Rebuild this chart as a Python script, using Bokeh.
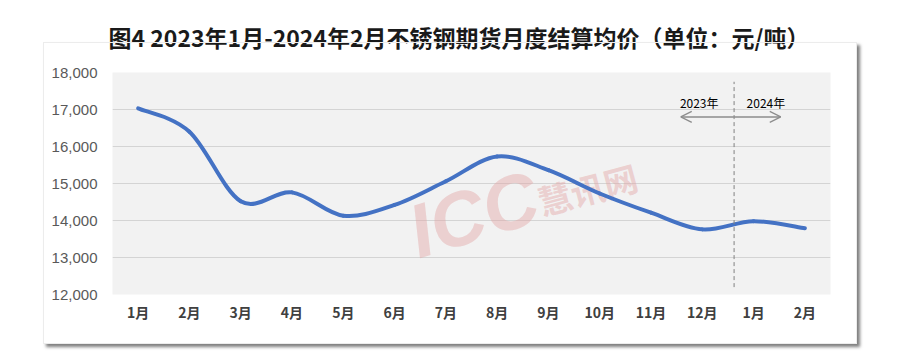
from bokeh.plotting import figure
from bokeh.models import (FixedTicker, NumeralTickFormatter, Range1d, Title, Label,
                          Arrow, OpenHead, ColumnDataSource, InlineStyleSheet)
from bokeh.core.properties import value
from bokeh.embed import file_html
from bokeh.resources import INLINE

months = ["1月", "2月", "3月", "4月", "5月", "6月", "7月", "8月", "9月", "10月", "11月", "12月", "1月", "2月"]
prices = [17030, 16400, 14520, 14760, 14130, 14420, 15060, 15730, 15360, 14730, 14210, 13760, 13980, 13790]
y_ticks = [12000, 13000, 14000, 15000, 16000, 17000, 18000]
year_labels = ["2023年", "2024年"]

W, H = 884, 347
p = figure(width=W, height=H, output_backend="svg", toolbar_location=None,
           x_range=Range1d(-0.5, len(months) - 0.5), y_range=Range1d(12000, 18000),
           min_border_left=112, min_border_right=54, min_border_top=71, min_border_bottom=53)
p.background_fill_color = "#f2f2f2"
p.border_fill_color = "white"
p.outline_line_color = None

# chart box with shadow (CSS overlay, transparent inside)
p.stylesheets = [InlineStyleSheet(css="""
:host { position: relative; }
:host::after {
  content: ''; position: absolute; left: 43px; top: 42px; width: 814px; height: 302px;
  border: 1px solid #ececec; box-shadow: 3px 3px 3px rgba(0,0,0,0.5);
  pointer-events: none; box-sizing: border-box;
}
""")]

# title
t = Title(text="图4 2023年1月-2024年2月不锈钢期货月度结算均价（单位：元/吨）",
          text_font="Noto Sans CJK SC", text_font_size="23px", text_font_style="bold",
          text_color="#1a1a1a", align="left", vertical_align="middle", standoff=36, offset=-4)
p.add_layout(t, "above")

# axes
p.xaxis.ticker = FixedTicker(ticks=list(range(len(months))))
p.xaxis.major_label_overrides = {i: m for i, m in enumerate(months)}
p.xaxis.major_label_text_font = "Noto Sans CJK SC"
p.xaxis.major_label_text_font_style = "bold"
p.xaxis.major_label_text_font_size = "14px"
p.xaxis.major_label_text_color = "#404040"
p.xaxis.major_label_standoff = 1
p.yaxis.ticker = FixedTicker(ticks=y_ticks)
p.yaxis.formatter = NumeralTickFormatter(format="0,0")
p.yaxis.major_label_text_font = "Liberation Sans"
p.yaxis.major_label_text_font_size = "15px"
p.yaxis.major_label_text_color = "#595959"
p.yaxis.major_label_standoff = 9
for ax in (p.xaxis, p.yaxis):
    ax.axis_line_color = None
    ax.major_tick_line_color = None
    ax.minor_tick_line_color = None
p.xgrid.grid_line_color = None
p.ygrid.grid_line_color = "#d4d4d4"
p.ygrid.grid_line_width = 1

# watermarks
wm = "#e2a6a6"
p.add_layout(Label(x=5.32, y=13650, text="ICC", text_font="Liberation Sans",
                   text_font_style="bold italic", text_font_size="76px", text_baseline="alphabetic",
                   text_color=wm, text_alpha=0.45, angle=0.3, level="underlay"))
p.add_layout(Label(x=7.8, y=14500, text="慧讯网", text_font="Noto Sans CJK SC",
                   text_font_style="bold", text_font_size="34px", text_baseline="alphabetic",
                   text_color=wm, text_alpha=0.45, angle=0.26, level="underlay"))

# smoothed line via bezier segments from data
n = len(prices)
xs = list(range(n))
x0, y0, x1, y1, cx0, cy0, cx1, cy1 = [], [], [], [], [], [], [], []
for i in range(n - 1):
    pm = i - 1 if i > 0 else i
    pp = i + 2 if i + 2 < n else i + 1
    x0.append(xs[i]); y0.append(prices[i])
    x1.append(xs[i + 1]); y1.append(prices[i + 1])
    cx0.append(xs[i] + (xs[i + 1] - xs[pm]) / 6)
    cy0.append(prices[i] + (prices[i + 1] - prices[pm]) / 6)
    cx1.append(xs[i + 1] - (xs[pp] - xs[i]) / 6)
    cy1.append(prices[i + 1] - (prices[pp] - prices[i]) / 6)
src = ColumnDataSource(dict(x0=x0, y0=y0, x1=x1, y1=y1, cx0=cx0, cy0=cy0, cx1=cx1, cy1=cy1))
p.bezier(x0="x0", y0="y0", x1="x1", y1="y1", cx0="cx0", cy0="cy0", cx1="cx1", cy1="cy1",
         source=src, line_color="#4472c4", line_width=4, line_cap="round")

# year divider
p.segment(x0=[11.62], y0=[12200], x1=[11.62], y1=[17750], line_color="#808080",
          line_dash="4 3", line_width=1)
p.add_layout(Arrow(start=OpenHead(size=11, line_color="#8c8c8c", line_width=1.2),
                   end=OpenHead(size=11, line_color="#8c8c8c", line_width=1.2),
                   x_start=10.58, y_start=16800, x_end=12.53, y_end=16800,
                   line_color="#8c8c8c", line_width=1.5))
p.text(x=[10.94, 12.24], y=[17180, 17180], text=year_labels, text_align="center",
       text_baseline="middle", text_font_size="12px", text_color="black",
       text_font=value("Noto Sans CJK SC"))

open("out.html", "w").write(file_html(p, INLINE))
